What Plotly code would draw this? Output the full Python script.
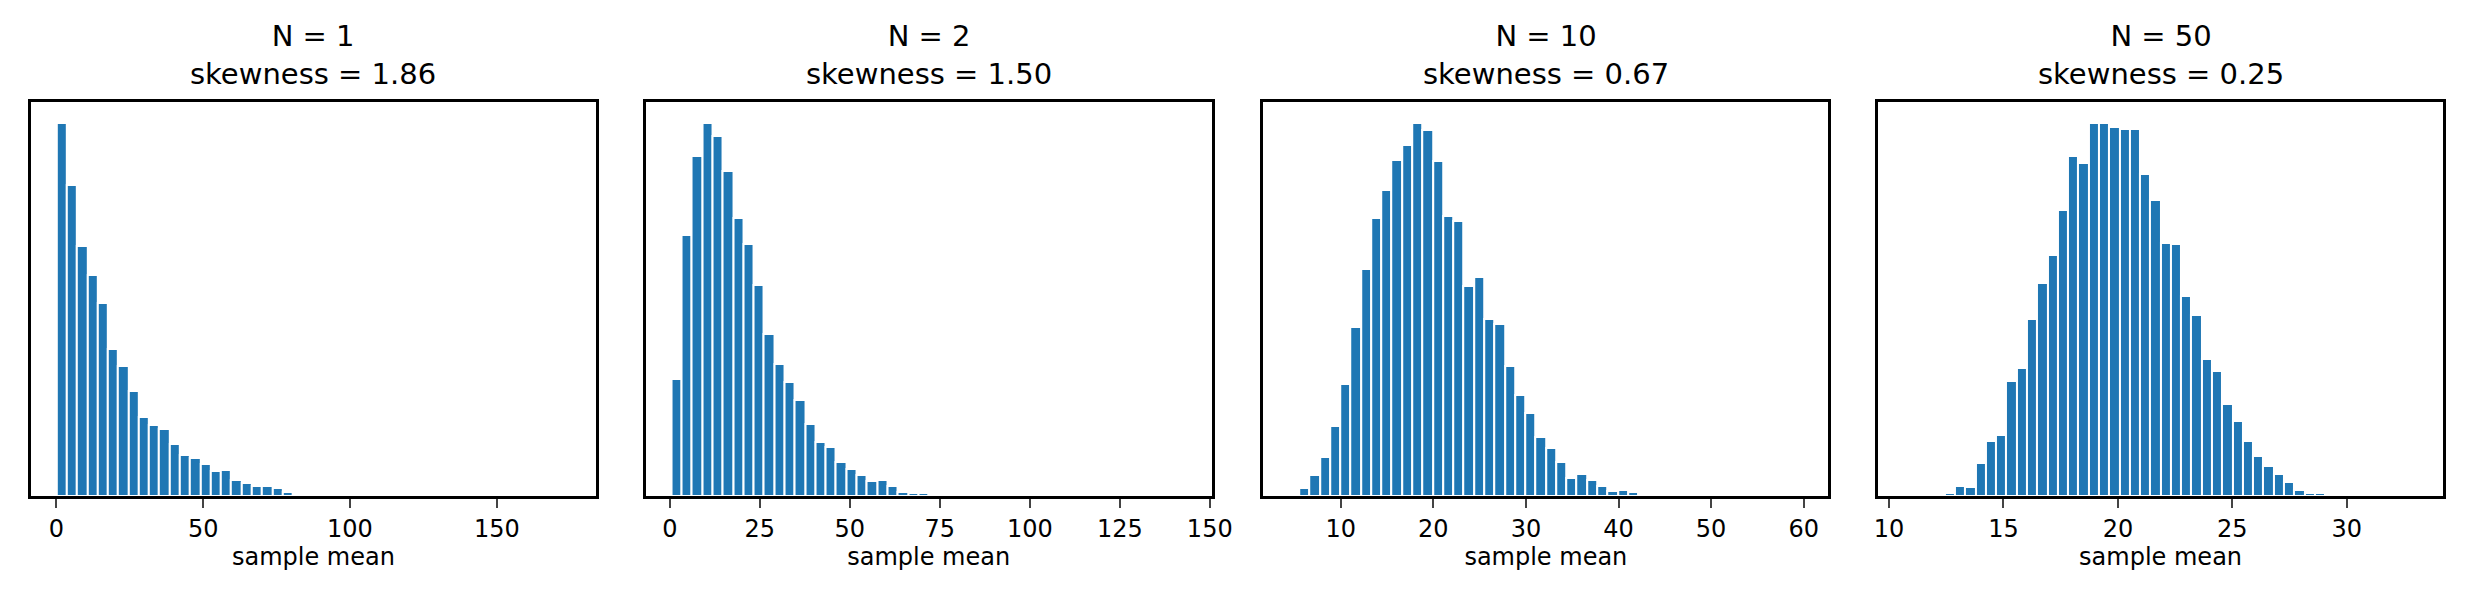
import plotly.graph_objects as go
import numpy as np

# sample sizes and skewness shown in the titles
sizes = [1, 2, 10, 50]
skews = [1.86, 1.50, 0.67, 0.25]

# histogram bins (start, width) and counts, 50 bins each
bin_start = [0.05, 0.4, 4.4, 10.64]
bin_width = [3.5, 2.86, 1.11, 0.449]

counts_n1 = [1120, 933, 750, 664, 579, 442, 389, 315, 236, 214, 200, 155, 122, 114, 96,
             75, 78, 48, 39, 29, 31, 25, 12, 7, 4, 4, 0, 0, 1, 0, 1, 0, 0, 0, 0,
             0, 0, 0, 0, 0, 0, 0, 0, 0, 0, 0, 0, 0, 0, 1]
counts_n2 = [355, 793, 1033, 1136, 1096, 988, 847, 766, 643, 493, 403, 346, 292, 220, 163,
             148, 103, 82, 64, 46, 49, 31, 13, 10, 10, 4, 0, 1, 0, 0, 0, 0, 0, 0, 0,
             0, 0, 0, 0, 0, 0, 0, 0, 0, 0, 0, 0, 0, 0, 1]
counts_n10 = [1, 23, 65, 119, 213, 341, 515, 689, 845, 932, 1022, 1067, 1136, 1113, 1019,
              851, 836, 639, 666, 539, 524, 395, 308, 254, 179, 145, 103, 55, 67, 49, 31,
              16, 19, 13, 7, 2, 0, 0, 0, 0, 0, 0, 0, 0, 0, 0, 0, 0, 0, 1]
counts_n50 = [1, 0, 1, 4, 10, 31, 28, 101, 167, 185, 350, 388, 538, 649, 733, 871, 1033,
              1012, 1136, 1136, 1123, 1117, 1115, 979, 901, 769, 766, 607, 550, 418, 380,
              280, 229, 166, 121, 91, 68, 44, 17, 10, 10, 0, 2, 0, 0, 0, 0, 0, 0, 1]
all_counts = [counts_n1, counts_n2, counts_n10, counts_n50]

tick_vals = [[0, 50, 100, 150], [0, 25, 50, 75, 100, 125, 150],
             [10, 20, 30, 40, 50, 60], [10, 15, 20, 25, 30]]

W, H = 2476, 596
x_px = [(19, 590), (640, 1212), (1264, 1835), (1885, 2456)]
y_top, y_bot = 94, 488

fig = go.Figure()
annotations = []
for i in range(4):
    counts = np.array(all_counts[i])
    edges = bin_start[i] + bin_width[i] * np.arange(len(counts) + 1)
    centers = (edges[:-1] + edges[1:]) / 2
    xa = "x" if i == 0 else f"x{i+1}"
    ya = "y" if i == 0 else f"y{i+1}"
    fig.add_trace(go.Bar(
        x=centers, y=counts, width=bin_width[i],
        marker=dict(color="#1f77b4", line=dict(color="white", width=2)),
        xaxis=xa, yaxis=ya, showlegend=False
    ))
    lo, hi = edges[0], edges[-1]
    pad = (hi - lo) * 0.05
    dom = [x_px[i][0] / W, x_px[i][1] / W]
    axkey = "xaxis" if i == 0 else f"xaxis{i+1}"
    aykey = "yaxis" if i == 0 else f"yaxis{i+1}"
    fig.layout[axkey] = dict(
        domain=dom, anchor=ya, range=[lo - pad, hi + pad],
        tickvals=tick_vals[i], ticks="outside", ticklen=9, tickwidth=2,
        showgrid=False, zeroline=False, showline=True, linecolor="black",
        linewidth=2.5, mirror=True, tickfont=dict(size=24, color="black"),
        title=dict(text="sample mean", font=dict(size=24, color="black"), standoff=6)
    )
    fig.layout[aykey] = dict(
        domain=[1 - y_bot / H, 1 - y_top / H], anchor=xa,
        range=[0, counts.max() * 1.055], showticklabels=False, ticks="",
        showgrid=False, zeroline=False, showline=True, linecolor="black",
        linewidth=2.5, mirror=True
    )
    annotations.append(dict(
        text=f"N = {sizes[i]}<br>skewness = {skews[i]:.2f}",
        x=(dom[0] + dom[1]) / 2, y=1 - 85 / H, xref="paper", yref="paper",
        xanchor="center", yanchor="bottom", showarrow=False,
        font=dict(size=29, color="black")
    ))

fig.update_layout(
    width=W, height=H, margin=dict(l=0, r=0, t=0, b=0),
    plot_bgcolor="white", paper_bgcolor="white", bargap=0,
    font=dict(family="DejaVu Sans"), annotations=annotations
)

fig.write_html("out.html")
